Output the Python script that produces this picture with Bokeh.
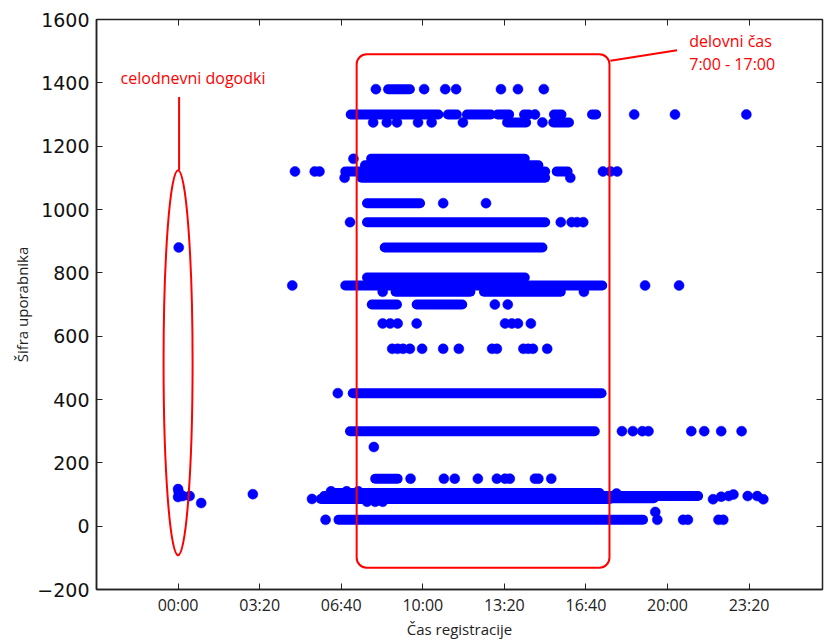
from bokeh.plotting import figure
from bokeh.models import Range1d, FixedTicker, LinearAxis, Label, CustomJSTickFormatter, ColumnDataSource
from bokeh.embed import file_html
from bokeh.resources import INLINE

# ---------------- data ----------------
# single registrations: user id and time of day (seconds after midnight)
pt_user = [1380, 1380, 1380, 1380, 1380, 1380, 1380,
           1300, 1300, 1300, 1300,
           1275, 1275, 1275, 1275, 1275, 1275, 1275,
           1160,
           1120, 1120, 1120, 1120, 1120, 1120,
           1100, 1100,
           1020, 1020,
           960, 960, 960, 960, 960,
           880,
           760, 760, 760,
           740, 740,
           700, 700,
           640, 640, 640, 640, 640, 640, 640, 640,
           560, 560, 560, 560, 560, 560, 560, 560, 560, 560, 560, 560, 560,
           420,
           300, 300, 300, 300, 300, 300, 300, 300,
           250,
           150, 150, 150, 150, 150, 150, 150, 150, 150, 150,
           117, 107, 92, 95, 95, 73, 101,
           110, 110, 110, 86, 77, 77, 77,
           103, 85, 93, 95, 100, 95, 95, 85,
           20, 20, 20, 20, 20, 20, 45]
pt_time = [29100, 36200, 39300, 40900, 47500, 50000, 53800,
           52500, 67100, 73100, 83600,
           28700, 30700, 32200, 35300, 37300, 41900, 53600,
           25800,
           17200, 20100, 20800, 62500, 63600, 64600,
           24500, 57700,
           39000, 45300,
           25300, 56300, 57900, 58700, 59600,
           100,
           16800, 68700, 73700,
           30100, 59700,
           46600, 48500,
           30100, 31200, 32300, 35100, 48100, 49100, 50000, 51900,
           31500, 32300, 33100, 34100, 35900, 39000, 41300, 46200, 46900, 50800, 51500, 52200, 54300,
           23500,
           65300, 66900, 68300, 69200, 75500, 77400, 79900, 82900,
           28800,
           34200, 39100, 40700, 44100, 46900, 48100, 48800, 52500, 53000, 54900,
           0, 100, 0, 700, 1700, 3400, 11000,
           22500, 24800, 26500, 19700, 27800, 29000, 30100,
           64500, 78700, 79900, 81000, 81700, 83800, 85200, 86100,
           21700, 70500, 74300, 75000, 79500, 80200, 70200]

# dense runs of registrations (overlapping points): user id, first and last time
run_user = [1380, 1300, 1300, 1300, 1300, 1300, 1300, 1300, 1275, 1275,
            1160, 1140, 1120, 1120, 1100, 1020, 960, 880, 785, 760,
            740, 740, 700, 700, 420, 300, 150, 105, 95, 86, 95, 88, 20]
run_start = [30900, 25400, 39700, 42500, 47000, 50900, 55300, 60900, 48400, 55200,
             28400, 27500, 24600, 55700, 27000, 27800, 27800, 30400, 27800, 24600,
             32000, 45000, 28500, 35100, 25700, 25300, 29000, 22500, 21500, 21000, 63500, 63500, 23600]
run_end = [34100, 38300, 41000, 46000, 48700, 51600, 56400, 61500, 51200, 57500,
           51000, 53000, 54000, 57300, 54000, 35600, 54000, 53600, 51000, 62400,
           43000, 56300, 32200, 41800, 62300, 61300, 32300, 62000, 63500, 63500, 76500, 70000, 68400]

x_ticks = [0, 12000, 24000, 36000, 48000, 60000, 72000, 84000]
x_tick_labels = ["00:00", "03:20", "06:40", "10:00", "13:20", "16:40", "20:00", "23:20"]
y_ticks = [-200, 0, 200, 400, 600, 800, 1000, 1200, 1400, 1600]

# ---------------- figure ----------------
p = figure(width=824, height=642, x_range=Range1d(-12000, 94800), y_range=Range1d(-200, 1600),
           output_backend="svg", toolbar_location=None,
           min_border_left=96, min_border_right=2, min_border_top=19, min_border_bottom=53)
p.xgrid.grid_line_color = None
p.ygrid.grid_line_color = None
p.outline_line_color = "#222222"
p.outline_line_width = 1.5
p.background_fill_color = "white"
p.border_fill_color = "white"

BLUE = "#0000ff"
RED = "#ff0000"

runs = ColumnDataSource(dict(u=run_user, s=run_start, e=run_end))
pts = ColumnDataSource(dict(u=pt_user, t=pt_time))
p.segment(x0="s", y0="u", x1="e", y1="u", source=runs, line_width=10, line_cap="round", line_color=BLUE)
p.scatter(x="t", y="u", source=pts, size=10, fill_color=BLUE, line_color=BLUE, line_width=0.5)

# axes
xa = p.xaxis[0]
xa.ticker = FixedTicker(ticks=x_ticks)
xa.major_label_overrides = {t: l for t, l in zip(x_ticks, x_tick_labels)}
xa.major_label_text_font = "Open Sans"
xa.major_label_text_font_size = "16px"
xa.major_label_text_color = "#222222"
xa.major_label_standoff = 4
xa.axis_label = "Čas registracije"
xa.axis_label_text_font = "Open Sans"
xa.axis_label_text_font_size = "15px"
xa.axis_label_text_font_style = "normal"
xa.axis_label_text_color = "#222222"
xa.axis_label_standoff = 0

ya = p.yaxis[0]
ya.ticker = FixedTicker(ticks=y_ticks)
ya.formatter = CustomJSTickFormatter(code="return tick < 0 ? '\u2212' + Math.abs(tick) : String(tick);")
ya.major_label_text_font = "DejaVu Sans"
ya.major_label_text_font_size = "19px"
ya.major_label_text_color = "#111111"
ya.major_label_standoff = 7
ya.axis_label = "Šifra uporabnika"
ya.axis_label_text_font = "Open Sans"
ya.axis_label_text_font_size = "15px"
ya.axis_label_text_font_style = "normal"
ya.axis_label_text_color = "#222222"
ya.axis_label_standoff = 2

for ax in (xa, ya):
    ax.major_tick_in = 6
    ax.major_tick_out = 0
    ax.minor_tick_line_color = None
    ax.axis_line_color = "#222222"
    ax.axis_line_width = 1.5
    ax.major_tick_line_color = "#222222"

blank = "return '';"
top = LinearAxis(ticker=FixedTicker(ticks=x_ticks), formatter=CustomJSTickFormatter(code=blank),
                 major_tick_in=6, major_tick_out=0, minor_tick_line_color=None,
                 axis_line_color=None, major_label_standoff=0, major_label_text_font_size="1px",
                 major_tick_line_color="#222222")
right = LinearAxis(ticker=FixedTicker(ticks=y_ticks), formatter=CustomJSTickFormatter(code=blank),
                   major_tick_in=6, major_tick_out=0, minor_tick_line_color=None,
                   axis_line_color=None, major_label_standoff=0, major_label_text_font_size="1px",
                   major_tick_line_color="#222222")
p.add_layout(top, "above")
p.add_layout(right, "right")

# ---------------- annotations ----------------
p.ellipse(x=[0], y=[516], width=[4270], height=[1216], fill_color=None, line_color=RED, line_width=2)
p.segment(x0=[150], y0=[1124], x1=[150], y1=[1355], line_color=RED, line_width=2)
p.quad(left=[26270], right=[63460], top=[1490], bottom=[-131], border_radius=10,
       fill_color=None, line_color=RED, line_width=2)
p.segment(x0=[63600], y0=[1470], x1=[73400], y1=[1503], line_color=RED, line_width=2)

p.add_layout(Label(x=2200, y=1415, text="celodnevni dogodki", text_align="center", text_baseline="middle",
                   text_color=RED, text_font="Open Sans", text_font_size="16px"))
p.add_layout(Label(x=75200, y=1531, text="delovni čas", text_align="left", text_baseline="middle",
                   text_color=RED, text_font="Open Sans", text_font_size="16px"))
p.add_layout(Label(x=75200, y=1459, text="7:00 - 17:00", text_align="left", text_baseline="middle",
                   text_color=RED, text_font="Open Sans", text_font_size="16px"))

open("out.html", "w").write(file_html(p, INLINE))
